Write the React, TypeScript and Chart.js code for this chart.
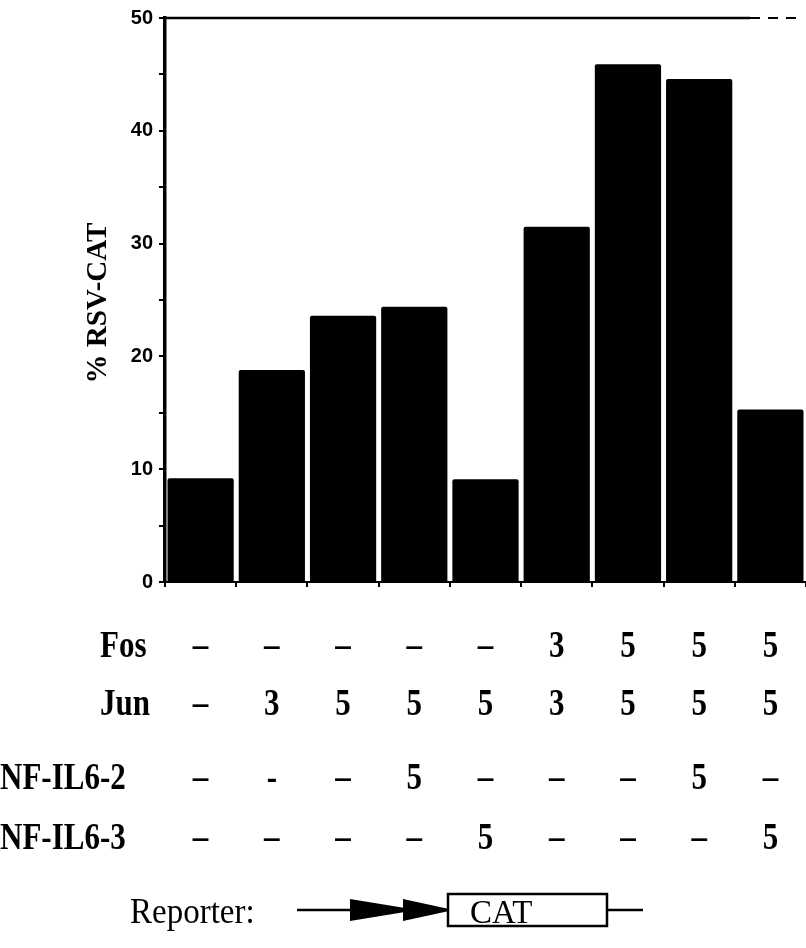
import React, { useEffect, useRef } from "react";
import { Chart, registerables } from "chart.js";

Chart.register(...registerables);

const categories = ["1", "2", "3", "4", "5", "6", "7", "8", "9"];
const rsvCat = [9.2, 18.8, 23.6, 24.4, 9.1, 31.5, 45.9, 44.6, 15.3];
const yTickLabels = ["0", "10", "20", "30", "40", "50"];
const rowLabels = ["Fos", "Jun", "NF-IL6-2", "NF-IL6-3"];
const fosRow = ["–", "–", "–", "–", "–", "3", "5", "5", "5"];
const junRow = ["–", "3", "5", "5", "5", "3", "5", "5", "5"];
const nf2Row = ["–", "-", "–", "5", "–", "–", "–", "5", "–"];
const nf3Row = ["–", "–", "–", "–", "5", "–", "–", "–", "5"];
const yTitle = "% RSV-CAT";
const reporterLabel = "Reporter:";
const reporterGene = "CAT";

const W = 806;
const H = 948;
const rows = [fosRow, junRow, nf2Row, nf3Row];
const rowBaselines = [657, 715, 789, 849];
const rowLabelX = [100, 100, 0, 0];

function drawStretched(
  ctx: CanvasRenderingContext2D,
  text: string,
  x: number,
  y: number,
  font: string,
  align: CanvasTextAlign,
  sy: number
) {
  ctx.save();
  ctx.translate(x, y);
  ctx.scale(1, sy);
  ctx.font = font;
  ctx.textAlign = align;
  ctx.textBaseline = "alphabetic";
  ctx.fillStyle = "#000";
  ctx.fillText(text, 0, 0);
  ctx.restore();
}

const figurePlugin = {
  id: "figureExtras",
  afterDraw(chart: any) {
    const ctx: CanvasRenderingContext2D = chart.ctx;
    const area = chart.chartArea;
    const xs = chart.scales.x;
    ctx.save();
    // top frame line
    ctx.strokeStyle = "#000";
    ctx.lineWidth = 2.5;
    ctx.beginPath();
    ctx.moveTo(area.left, area.top);
    ctx.lineTo(750, area.top);
    ctx.stroke();
    ctx.lineWidth = 2;
    ctx.setLineDash([10, 8]);
    ctx.beginPath();
    ctx.moveTo(750, area.top);
    ctx.lineTo(798, area.top);
    ctx.stroke();
    ctx.setLineDash([]);

    // y title
    ctx.save();
    ctx.translate(99, 303);
    ctx.rotate(-Math.PI / 2);
    ctx.font = "bold 29px 'Liberation Serif'";
    ctx.textAlign = "center";
    ctx.textBaseline = "middle";
    ctx.fillStyle = "#000";
    ctx.fillText(yTitle, 0, 0);
    ctx.restore();

    // table
    const font = "bold 31px 'Liberation Serif'";
    rows.forEach((row, r) => {
      drawStretched(ctx, rowLabels[r], rowLabelX[r], rowBaselines[r], font, "left", 1.25);
      row.forEach((v, i) => {
        const x = xs.getPixelForValue(i);
        drawStretched(ctx, v, x, rowBaselines[r], font, "center", 1.25);
      });
    });

    // reporter
    const ry = 910;
    drawStretched(ctx, reporterLabel, 130, 923, "33px 'Liberation Serif'", "left", 1.1);
    ctx.strokeStyle = "#000";
    ctx.lineWidth = 2.5;
    ctx.beginPath();
    ctx.moveTo(297, ry);
    ctx.lineTo(352, ry);
    ctx.stroke();
    ctx.fillStyle = "#000";
    ctx.beginPath();
    ctx.moveTo(350, ry - 11);
    ctx.lineTo(405, ry - 2);
    ctx.lineTo(405, ry + 2);
    ctx.lineTo(350, ry + 11);
    ctx.closePath();
    ctx.fill();
    ctx.beginPath();
    ctx.moveTo(403, ry - 11);
    ctx.lineTo(449, ry - 1);
    ctx.lineTo(449, ry + 1);
    ctx.lineTo(403, ry + 11);
    ctx.closePath();
    ctx.fill();
    ctx.lineWidth = 2.5;
    ctx.strokeRect(448, ry - 16, 159, 32);
    ctx.beginPath();
    ctx.moveTo(607, ry);
    ctx.lineTo(643, ry);
    ctx.stroke();
    drawStretched(ctx, reporterGene, 470, ry + 13, "33px 'Liberation Serif'", "left", 1.05);
    ctx.restore();
  },
};

export default function App() {
  const ref = useRef<HTMLCanvasElement | null>(null);
  useEffect(() => {
    document.body.style.margin = "0";
    const canvas = ref.current;
    if (!canvas) return;
    const chart = new Chart(canvas, {
      type: "bar",
      data: {
        labels: categories,
        datasets: [
          {
            data: rsvCat,
            backgroundColor: "#000",
            borderWidth: 0,
            borderRadius: 2,
            barPercentage: 0.93,
            categoryPercentage: 1,
          },
        ],
      },
      options: {
        animation: false,
        responsive: false,
        devicePixelRatio: 1,
        layout: { padding: { top: 16, right: 0, bottom: H - 582 - 6, left: 0 } },
        plugins: { legend: { display: false }, tooltip: { enabled: false } },
        scales: {
          x: {
            type: "category",
            offset: true,
            ticks: { display: false },
            grid: {
              drawOnChartArea: false,
              offset: true,
              tickLength: 5,
              color: "#000",
              lineWidth: 2,
            },
            border: { color: "#000", width: 2 },
            afterFit: (s: any) => {
              s.height = 6;
            },
          },
          y: {
            min: 0,
            max: 50,
            ticks: {
              stepSize: 5,
              autoSkip: false,
              color: "#000",
              padding: 6,
              font: { family: "'Liberation Sans'", size: 20, weight: "bold" },
              callback: (v: any) => {
                const idx = yTickLabels.indexOf(String(v));
                return idx >= 0 ? yTickLabels[idx] : "";
              },
            },
            grid: {
              drawOnChartArea: false,
              tickLength: 6,
              color: "#000",
              lineWidth: 2,
            },
            border: { color: "#000", width: 3.5 },
            afterFit: (s: any) => {
              s.width = 165;
            },
          },
        },
      },
      plugins: [figurePlugin],
    });
    return () => chart.destroy();
  }, []);
  return <canvas ref={ref} width={W} height={H} style={{ display: "block" }} />;
}
